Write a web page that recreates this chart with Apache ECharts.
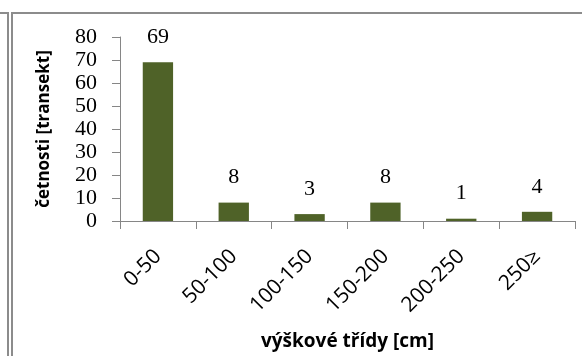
<!DOCTYPE html>
<html>
<head>
<meta charset="utf-8">
<script src="https://cdn.jsdelivr.net/npm/echarts@6/dist/echarts.min.js"></script>
<style>html,body{margin:0;padding:0;background:#fff}#c{width:582px;height:356px}</style>
</head>
<body>
<div id="c"></div>
<script>
var categories = ['0-50', '50-100', '100-150', '150-200', '200-250', '250≥'];
var counts = [69, 8, 3, 8, 1, 4];
var yTicks = { min: 0, max: 80, interval: 10 };
var xTitle = 'výškové třídy [cm]';
var yTitle = 'četnosti [transekt]';

var chart = echarts.init(document.getElementById('c'), null, { renderer: 'canvas' });
var axisGray = '#868686';
var frameGray = '#8c8c8c';
chart.setOption({
  animation: false,
  backgroundColor: '#ffffff',
  graphic: [
    { type: 'line', shape: { x1: 0, y1: 13, x2: 582, y2: 13 }, style: { stroke: frameGray, lineWidth: 2 }, z: 10 },
    { type: 'rect', shape: { x: 9, y: 12, width: 2, height: 2 }, style: { fill: '#ffffff' }, z: 11 },
    { type: 'line', shape: { x1: 8, y1: 12, x2: 8, y2: 356 }, style: { stroke: frameGray, lineWidth: 2 }, z: 12 },
    { type: 'line', shape: { x1: 12, y1: 12, x2: 12, y2: 356 }, style: { stroke: frameGray, lineWidth: 2 }, z: 12 }
  ],
  grid: { left: 120, right: 7, top: 37, bottom: 131, containLabel: false },
  xAxis: {
    type: 'category',
    data: categories,
    name: xTitle,
    nameLocation: 'middle',
    nameGap: 111,
    nameTextStyle: { fontFamily: 'Open Sans', fontWeight: 'bold', fontSize: 19, color: '#000' },
    axisLine: { lineStyle: { color: axisGray, width: 1 } },
    axisTick: { show: true, length: 8, lineStyle: { color: axisGray }, alignWithLabel: false },
    axisLabel: { rotate: 45, margin: 32, fontFamily: 'Open Sans', fontSize: 21, color: '#000', interval: 0 }
  },
  yAxis: {
    type: 'value',
    min: yTicks.min, max: yTicks.max, interval: yTicks.interval,
    name: yTitle,
    nameLocation: 'middle',
    nameGap: 67,
    nameRotate: 90,
    nameTextStyle: { fontFamily: 'Open Sans', fontWeight: 'bold', fontSize: 17, color: '#000' },
    axisLine: { show: true, lineStyle: { color: axisGray, width: 1 } },
    axisTick: { show: true, length: 8, lineStyle: { color: axisGray } },
    splitLine: { show: false },
    axisLabel: { margin: 23, fontFamily: 'Liberation Serif', fontSize: 22, color: '#000' }
  },
  series: [{
    type: 'bar',
    data: counts,
    barWidth: '40%',
    itemStyle: { color: '#4f6228' },
    label: { show: true, position: 'top', distance: 14, fontFamily: 'Liberation Serif', fontSize: 22, color: '#000' }
  }]
});
</script>
</body>
</html>
